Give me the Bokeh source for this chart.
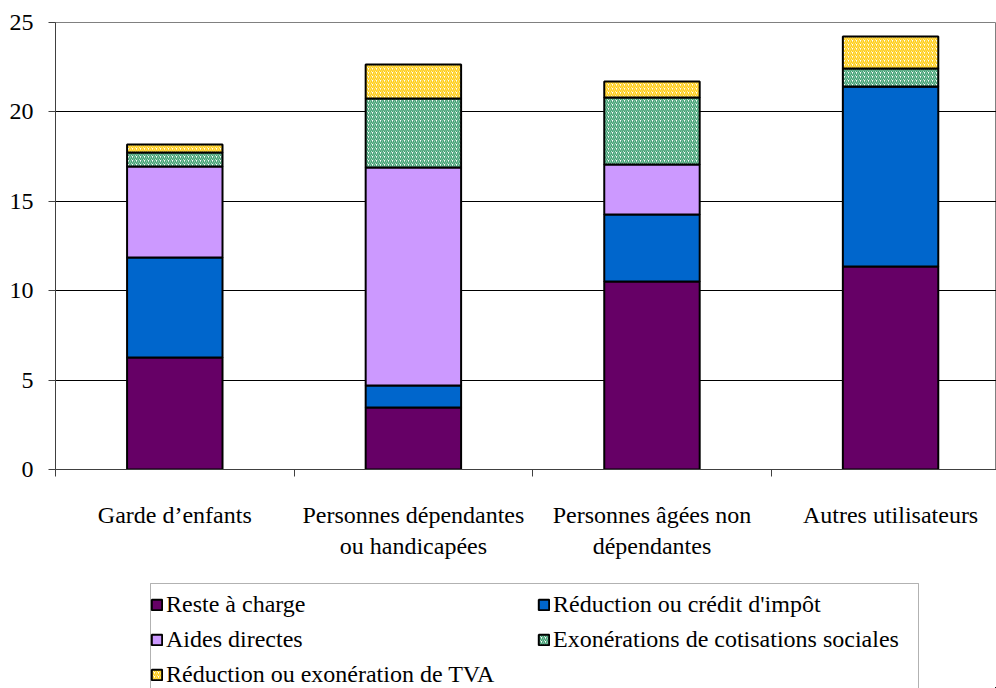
from bokeh.plotting import figure
from bokeh.layouts import column
from bokeh.models import (ColumnDataSource, Range1d, FixedTicker, Legend, LegendItem, BoxAnnotation)
from bokeh.transform import stack
from bokeh.embed import file_html
from bokeh.resources import INLINE

# Categories and stacked components
categories = ["Garde d\u2019enfants", "Personnes d\u00e9pendantes\nou handicap\u00e9es",
              "Personnes \u00e2g\u00e9es non\nd\u00e9pendantes", "Autres utilisateurs"]
reste_a_charge = [6.26, 3.47, 10.51, 11.35]
reduction_impot = [5.60, 1.23, 3.75, 10.07]
aides_directes = [5.09, 12.19, 2.80, 0.0]
exonerations = [0.78, 3.86, 3.75, 1.01]
tva = [0.45, 1.90, 0.89, 1.79]

series_names = ["Reste \u00e0 charge", "R\u00e9duction ou cr\u00e9dit d'imp\u00f4t",
                "Aides directes", "Exon\u00e9rations de cotisations sociales",
                "R\u00e9duction ou exon\u00e9ration de TVA"]
y_ticks = [0, 5, 10, 15, 20, 25]

keys = ["reste", "reduc", "aides", "exo", "tva"]
x_pos = [i + 0.5 for i in range(len(categories))]
source = ColumnDataSource(dict(x=x_pos, reste=reste_a_charge, reduc=reduction_impot,
                               aides=aides_directes, exo=exonerations, tva=tva))

styles = {
    "reste": dict(fill_color="#660066"),
    "reduc": dict(fill_color="#0066cc"),
    "aides": dict(fill_color="#cc99ff"),
    "exo": dict(fill_color="white", hatch_pattern="right_diagonal_line",
                hatch_color="#3f9f72", hatch_scale=4, hatch_weight=1.5),
    "tva": dict(fill_color="white", hatch_pattern="right_diagonal_line",
                hatch_color="#ffcc11", hatch_scale=4, hatch_weight=1.5),
}

FONT = "Liberation Serif"
FS = "24px"

p = figure(width=996, height=578, output_backend="svg", toolbar_location=None,
           x_range=Range1d(0, 3.944), y_range=Range1d(0, 25),
           min_border_left=55, min_border_right=0, min_border_top=22, min_border_bottom=109)

renderers = []
for i, k in enumerate(keys):
    r = p.vbar(x="x", width=0.4, bottom=stack(*keys[:i]), top=stack(*keys[:i + 1]),
               source=source, line_color="black", line_width=2, **styles[k])
    renderers.append(r)

# Axes
p.yaxis.ticker = FixedTicker(ticks=y_ticks)
p.yaxis.minor_tick_line_color = None
p.yaxis.major_tick_in = 0
p.yaxis.major_tick_out = 7
p.yaxis.major_label_standoff = 15
p.yaxis.major_label_text_font = FONT
p.yaxis.major_label_text_font_size = FS
p.yaxis.major_label_text_color = "black"
p.yaxis.axis_line_color = "#404040"
p.yaxis.major_tick_line_color = "#404040"

p.xaxis.ticker = FixedTicker(ticks=x_pos, minor_ticks=[0, 1, 2, 3, 4])
p.xaxis.major_label_overrides = {x: c for x, c in zip(x_pos, categories)}
p.xaxis.major_tick_in = 0
p.xaxis.major_tick_out = 0
p.xaxis.minor_tick_in = 0
p.xaxis.minor_tick_out = 7
p.xaxis.minor_tick_line_color = "#404040"
p.xaxis.axis_line_color = "#404040"
p.xaxis.major_label_standoff = 25
p.xaxis.major_label_text_font = FONT
p.xaxis.major_label_text_font_size = FS
p.xaxis.major_label_text_color = "black"
p.xaxis.major_label_text_align = "center"

p.xgrid.grid_line_color = None
p.ygrid.ticker = FixedTicker(ticks=y_ticks)
p.ygrid.grid_line_color = "black"
p.ygrid.grid_line_width = 1
p.outline_line_color = "#808080"
p.background_fill_color = "white"

# Legend panel below the chart (its frame is aligned with the chart's, so the
# x range runs in page pixels from 55 to 996); swatch renderers share the bar
# styles and sit outside the visible range so only their legend glyphs show
lp = figure(width=996, height=110, output_backend="svg", toolbar_location=None,
            x_range=Range1d(55, 996), y_range=Range1d(0, 110),
            min_border_left=0, min_border_right=0, min_border_top=0, min_border_bottom=0)
lp.axis.visible = False
lp.grid.visible = False
lp.outline_line_color = None
hidden = ColumnDataSource(dict(x=[5000], top=[1]))
swatches = [lp.vbar(x="x", top="top", width=1, source=hidden, line_color="black",
                    line_width=2, **styles[k]) for k in keys]

# Legend frame
lp.add_layout(BoxAnnotation(left=150, right=918, bottom=-10, top=105,
                            fill_alpha=0, line_color="black", line_width=1, level="underlay"))

# Laid out column-first: left column then right column
order = [0, 2, 4, 1, 3]
legend = Legend(items=[LegendItem(label=series_names[i], renderers=[swatches[i]]) for i in order],
                ncols=2, location=(95, 0), orientation="vertical",
                label_text_font=FONT, label_text_font_size=FS, label_text_color="black",
                glyph_width=13, glyph_height=13, label_height=24, label_standoff=3,
                label_width=363, spacing=8, padding=5, margin=0,
                border_line_color=None, background_fill_alpha=0)
lp.add_layout(legend, "center")

open("out.html", "w").write(file_html(column(p, lp), INLINE))
